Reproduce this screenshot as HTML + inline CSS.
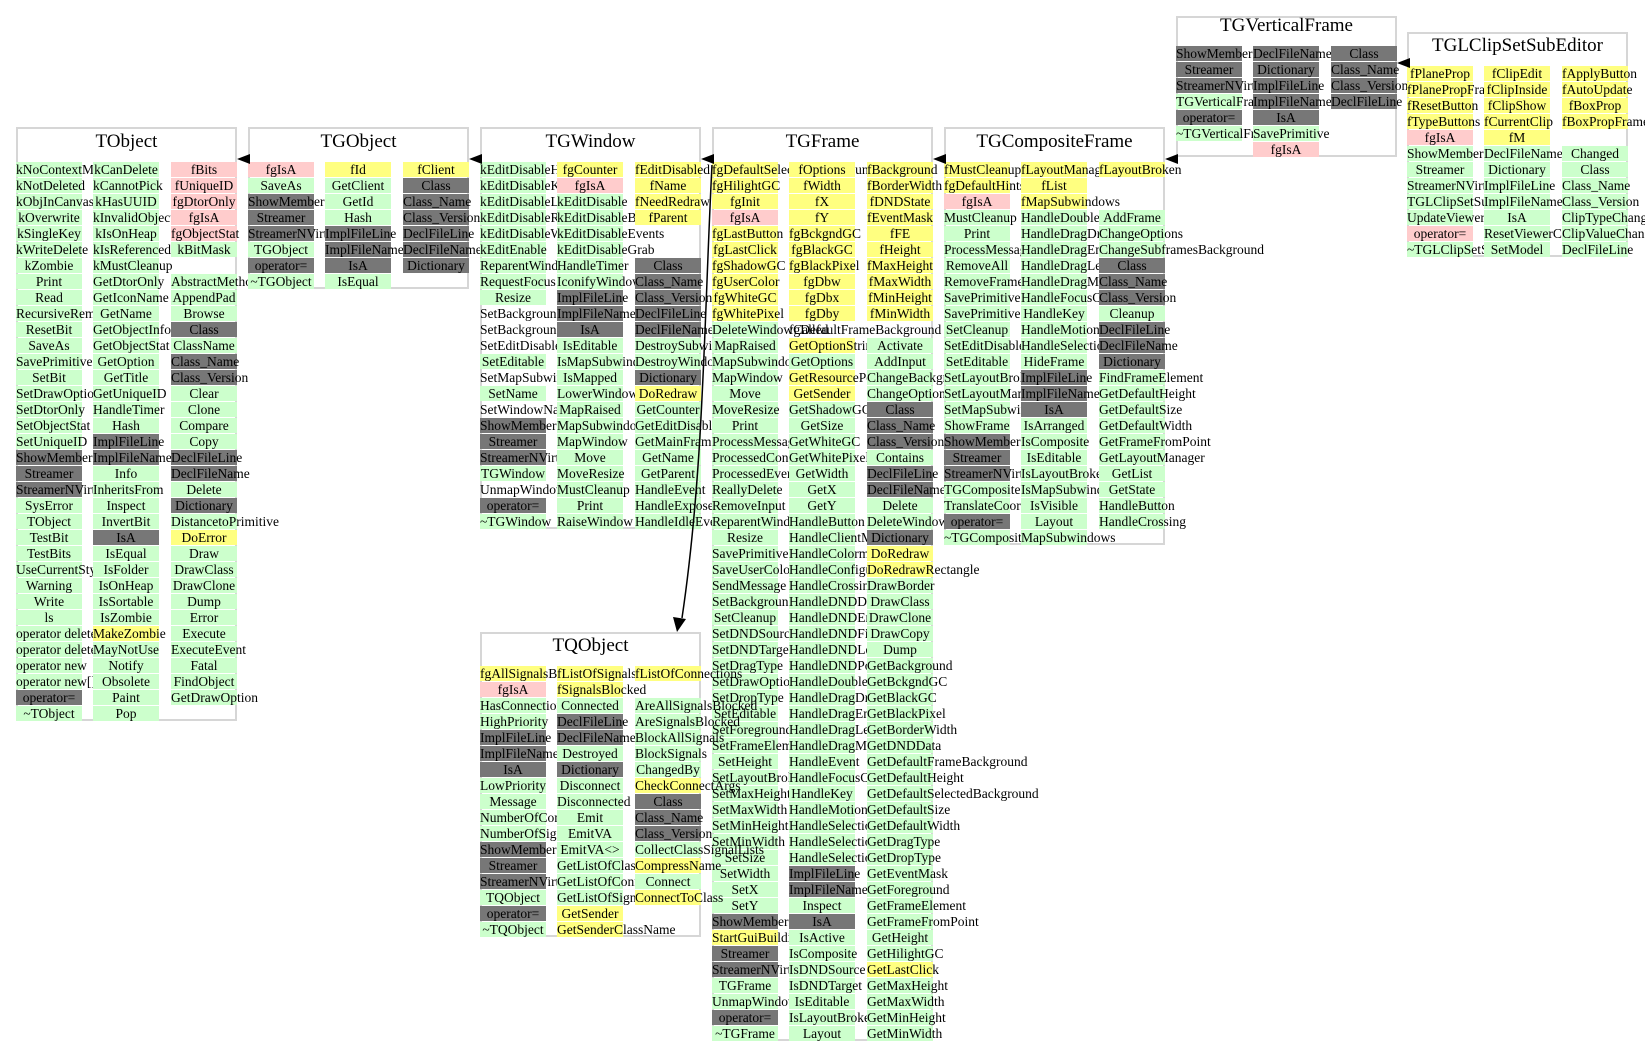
<!DOCTYPE html>
<html><head><meta charset="utf-8">
<style>
html,body{margin:0;padding:0;background:#fff;}
#root{position:relative;width:1645px;height:1056px;overflow:hidden;font-family:"Liberation Serif",serif;}
.box{position:absolute;border:2px solid #d6d6d6;box-sizing:border-box;background:transparent;}
.title{position:absolute;font-size:19px;text-align:center;color:#000;white-space:nowrap;}
.cell{position:absolute;height:15px;width:66px;font-size:13.5px;line-height:15px;text-align:center;white-space:nowrap;color:#000;}
.cell span{position:relative;display:inline-block;width:66px;text-align:center;}
.g{background:#ccffcc}.y{background:#ffff80}.p{background:#ffcccc}.d{background:#777777}.w{background:transparent}
svg{position:absolute;left:0;top:0;}
</style></head>
<body>
<div id="root">
<svg width="1645" height="1056">
  <path d="M712,165 C704,320 704,470 682,618" fill="none" stroke="#000" stroke-width="1.5"/>
  <polygon points="677,632 673,617 686,619" fill="#000"/>
</svg>
</div>
<script>
// class names
const classNames = ["TObject","TGObject","TGWindow","TGFrame","TGCompositeFrame","TQObject","TGVerticalFrame","TGLClipSetSubEditor"];
// members per column (prefix: g=green, y=yellow field, p=pink static, d=gray generated, w=plain, empty=blank)
const colsTObject = [
"g:kNoContextMenu|g:kNotDeleted|g:kObjInCanvas|g:kOverwrite|g:kSingleKey|g:kWriteDelete|g:kZombie|g:Print|g:Read|g:RecursiveRemove|g:ResetBit|g:SaveAs|g:SavePrimitive|g:SetBit|g:SetDrawOption|g:SetDtorOnly|g:SetObjectStat|g:SetUniqueID|d:ShowMembers|d:Streamer|d:StreamerNVirtual|g:SysError|g:TObject|g:TestBit|g:TestBits|g:UseCurrentStyle|g:Warning|g:Write|g:ls|g:operator delete|g:operator delete[]|g:operator new|g:operator new[]|d:operator=|g:~TObject",
"g:kCanDelete|g:kCannotPick|g:kHasUUID|g:kInvalidObject|g:kIsOnHeap|g:kIsReferenced|g:kMustCleanup|g:GetDtorOnly|g:GetIconName|g:GetName|g:GetObjectInfo|g:GetObjectStat|g:GetOption|g:GetTitle|g:GetUniqueID|g:HandleTimer|g:Hash|d:ImplFileLine|d:ImplFileName|g:Info|g:InheritsFrom|g:Inspect|g:InvertBit|d:IsA|g:IsEqual|g:IsFolder|g:IsOnHeap|g:IsSortable|g:IsZombie|y:MakeZombie|g:MayNotUse|g:Notify|g:Obsolete|g:Paint|g:Pop",
"p:fBits|p:fUniqueID|p:fgDtorOnly|p:fgIsA|p:fgObjectStat|g:kBitMask||g:AbstractMethod|g:AppendPad|g:Browse|d:Class|g:ClassName|d:Class_Name|d:Class_Version|g:Clear|g:Clone|g:Compare|g:Copy|d:DeclFileLine|d:DeclFileName|g:Delete|d:Dictionary|g:DistancetoPrimitive|y:DoError|g:Draw|g:DrawClass|g:DrawClone|g:Dump|g:Error|g:Execute|g:ExecuteEvent|g:Fatal|g:FindObject|g:GetDrawOption"];
const colsTGObject = [
"p:fgIsA|g:SaveAs|d:ShowMembers|d:Streamer|d:StreamerNVirtual|g:TGObject|d:operator=|g:~TGObject",
"y:fId|g:GetClient|g:GetId|g:Hash|d:ImplFileLine|d:ImplFileName|d:IsA|g:IsEqual",
"y:fClient|d:Class|d:Class_Name|d:Class_Version|d:DeclFileLine|d:DeclFileName|d:Dictionary"];
const colsTGWindow = [
"g:kEditDisableHeight|g:kEditDisableKeyEnable|g:kEditDisableLayout|g:kEditDisableResize|g:kEditDisableWidth|g:kEditEnable|g:ReparentWindow|g:RequestFocus|g:Resize|w:SetBackgroundColor|w:SetBackgroundPixmap|w:SetEditDisabled|g:SetEditable|w:SetMapSubwindows|g:SetName|w:SetWindowName|d:ShowMembers|d:Streamer|d:StreamerNVirtual|g:TGWindow|w:UnmapWindow|d:operator=|g:~TGWindow",
"y:fgCounter|p:fgIsA|g:kEditDisable|g:kEditDisableBtnEnable|g:kEditDisableEvents|g:kEditDisableGrab|g:HandleTimer|g:IconifyWindow|d:ImplFileLine|d:ImplFileName|d:IsA|g:IsEditable|g:IsMapSubwindows|g:IsMapped|g:LowerWindow|g:MapRaised|g:MapSubwindows|g:MapWindow|g:Move|g:MoveResize|g:MustCleanup|g:Print|g:RaiseWindow",
"y:fEditDisabled|y:fName|y:fNeedRedraw|y:fParent|||d:Class|d:Class_Name|d:Class_Version|d:DeclFileLine|d:DeclFileName|g:DestroySubwindows|g:DestroyWindow|d:Dictionary|y:DoRedraw|g:GetCounter|g:GetEditDisabled|g:GetMainFrame|g:GetName|g:GetParent|g:HandleEvent|g:HandleExpose|g:HandleIdleEvent"];
const colsTGFrame = [
"y:fgDefaultSelectedBackground|y:fgHilightGC|y:fgInit|p:fgIsA|y:fgLastButton|y:fgLastClick|y:fgShadowGC|y:fgUserColor|y:fgWhiteGC|y:fgWhitePixel|g:DeleteWindowCalled|g:MapRaised|g:MapSubwindows|g:MapWindow|g:Move|g:MoveResize|g:Print|g:ProcessMessage|g:ProcessedConfigure|g:ProcessedEvent|g:ReallyDelete|g:RemoveInput|g:ReparentWindow|g:Resize|g:SavePrimitive|g:SaveUserColor|g:SendMessage|g:SetBackgroundColor|g:SetCleanup|g:SetDNDSource|g:SetDNDTarget|g:SetDragType|g:SetDrawOption|g:SetDropType|g:SetEditable|g:SetForegroundColor|g:SetFrameElement|g:SetHeight|g:SetLayoutBroken|g:SetMaxHeight|g:SetMaxWidth|g:SetMinHeight|g:SetMinWidth|g:SetSize|g:SetWidth|g:SetX|g:SetY|d:ShowMembers|y:StartGuiBuilding|d:Streamer|d:StreamerNVirtual|g:TGFrame|g:UnmapWindow|d:operator=|g:~TGFrame",
"y:fOptions|y:fWidth|y:fX|y:fY|y:fgBckgndGC|y:fgBlackGC|y:fgBlackPixel|y:fgDbw|y:fgDbx|y:fgDby|w:fgDefaultFrameBackground|y:GetOptionString|g:GetOptions|y:GetResourcePool|y:GetSender|g:GetShadowGC|g:GetSize|g:GetWhiteGC|g:GetWhitePixel|g:GetWidth|g:GetX|g:GetY|g:HandleButton|g:HandleClientMessage|g:HandleColormapChange|g:HandleConfigureNotify|g:HandleCrossing|g:HandleDNDDrop|g:HandleDNDEnter|g:HandleDNDFinished|g:HandleDNDLeave|g:HandleDNDPosition|g:HandleDoubleClick|g:HandleDragDrop|g:HandleDragEnter|g:HandleDragLeave|g:HandleDragMotion|g:HandleEvent|g:HandleFocusChange|g:HandleKey|g:HandleMotion|g:HandleSelection|g:HandleSelectionClear|g:HandleSelectionRequest|d:ImplFileLine|d:ImplFileName|g:Inspect|d:IsA|g:IsActive|g:IsComposite|g:IsDNDSource|g:IsDNDTarget|g:IsEditable|g:IsLayoutBroken|g:Layout",
"y:fBackground|y:fBorderWidth|y:fDNDState|y:fEventMask|y:fFE|y:fHeight|y:fMaxHeight|y:fMaxWidth|y:fMinHeight|y:fMinWidth||g:Activate|g:AddInput|g:ChangeBackground|g:ChangeOptions|d:Class|d:Class_Name|d:Class_Version|g:Contains|d:DeclFileLine|d:DeclFileName|g:Delete|g:DeleteWindow|d:Dictionary|y:DoRedraw|y:DoRedrawRectangle|g:DrawBorder|g:DrawClass|g:DrawClone|g:DrawCopy|g:Dump|g:GetBackground|g:GetBckgndGC|g:GetBlackGC|g:GetBlackPixel|g:GetBorderWidth|g:GetDNDData|g:GetDefaultFrameBackground|g:GetDefaultHeight|g:GetDefaultSelectedBackground|g:GetDefaultSize|g:GetDefaultWidth|g:GetDragType|g:GetDropType|g:GetEventMask|g:GetForeground|g:GetFrameElement|g:GetFrameFromPoint|g:GetHeight|g:GetHilightGC|y:GetLastClick|g:GetMaxHeight|g:GetMaxWidth|g:GetMinHeight|g:GetMinWidth"];
const colsTGCompositeFrame = [
"y:fMustCleanup|y:fgDefaultHints|p:fgIsA|g:MustCleanup|g:Print|g:ProcessMessage|g:RemoveAll|g:RemoveFrame|g:SavePrimitive|g:SavePrimitiveSubframes|g:SetCleanup|g:SetEditDisabled|g:SetEditable|g:SetLayoutBroken|g:SetLayoutManager|g:SetMapSubwindows|g:ShowFrame|d:ShowMembers|d:Streamer|d:StreamerNVirtual|g:TGCompositeFrame|g:TranslateCoordinates|d:operator=|g:~TGCompositeFrame",
"y:fLayoutManager|y:fList|y:fMapSubwindows|g:HandleDoubleClick|g:HandleDragDrop|g:HandleDragEnter|g:HandleDragLeave|g:HandleDragMotion|g:HandleFocusChange|g:HandleKey|g:HandleMotion|g:HandleSelection|g:HideFrame|d:ImplFileLine|d:ImplFileName|d:IsA|g:IsArranged|g:IsComposite|g:IsEditable|g:IsLayoutBroken|g:IsMapSubwindows|g:IsVisible|g:Layout|g:MapSubwindows",
"y:fLayoutBroken|||g:AddFrame|g:ChangeOptions|g:ChangeSubframesBackground|d:Class|d:Class_Name|d:Class_Version|g:Cleanup|d:DeclFileLine|d:DeclFileName|d:Dictionary|g:FindFrameElement|g:GetDefaultHeight|g:GetDefaultSize|g:GetDefaultWidth|g:GetFrameFromPoint|g:GetLayoutManager|g:GetList|g:GetState|g:HandleButton|g:HandleCrossing"];
const colsTQObject = [
"y:fgAllSignalsBlocked|p:fgIsA|g:HasConnection|g:HighPriority|d:ImplFileLine|d:ImplFileName|d:IsA|g:LowPriority|g:Message|g:NumberOfConnections|g:NumberOfSignals|d:ShowMembers|d:Streamer|d:StreamerNVirtual|g:TQObject|d:operator=|g:~TQObject",
"y:fListOfSignals|y:fSignalsBlocked|g:Connected|d:DeclFileLine|d:DeclFileName|g:Destroyed|d:Dictionary|g:Disconnect|g:Disconnected|g:Emit|g:EmitVA|g:EmitVA<>|g:GetListOfClassSignals|g:GetListOfConnections|g:GetListOfSignals|y:GetSender|y:GetSenderClassName",
"y:fListOfConnections||g:AreAllSignalsBlocked|g:AreSignalsBlocked|g:BlockAllSignals|g:BlockSignals|g:ChangedBy|y:CheckConnectArgs|d:Class|d:Class_Name|d:Class_Version|g:CollectClassSignalLists|y:CompressName|g:Connect|y:ConnectToClass"];
const colsTGVerticalFrame = [
"d:ShowMembers|d:Streamer|d:StreamerNVirtual|g:TGVerticalFrame|d:operator=|g:~TGVerticalFrame",
"d:DeclFileName|d:Dictionary|d:ImplFileLine|d:ImplFileName|d:IsA|g:SavePrimitive|p:fgIsA",
"d:Class|d:Class_Name|d:Class_Version|d:DeclFileLine"];
const colsTGLClipSetSubEditor = [
"y:fPlaneProp|y:fPlanePropFrame|y:fResetButton|y:fTypeButtons|p:fgIsA|g:ShowMembers|g:Streamer|g:StreamerNVirtual|g:TGLClipSetSubEditor|g:UpdateViewerClip|p:operator=|g:~TGLClipSetSubEditor",
"y:fClipEdit|y:fClipInside|y:fClipShow|y:fCurrentClip|y:fM|g:DeclFileName|g:Dictionary|g:ImplFileLine|g:ImplFileName|g:IsA|g:ResetViewerClip|g:SetModel",
"y:fApplyButton|y:fAutoUpdate|y:fBoxProp|y:fBoxPropFrame||g:Changed|g:Class|g:Class_Name|g:Class_Version|g:ClipTypeChanged|g:ClipValueChanged|g:DeclFileLine"];

const allCols = [colsTObject,colsTGObject,colsTGWindow,colsTGFrame,colsTGCompositeFrame,colsTQObject,colsTGVerticalFrame,colsTGLClipSetSubEditor];
// layout
const boxX = [16,248,480,712,944,480,1176,1407];
const boxY = [127,127,127,127,127,632,16,32];
const firstRow = [42,42,42,42,42,41,37,41];
const parentTip = [null,[237,159],[469,159],[701,159],[933,159],null,[1165,159],[1397,63]];
const BW=221, PITCH=16, CH=15, CW=66, COLX=[0,77,155];

const root=document.getElementById('root');
const svg=document.querySelector('svg');
function slug(s){return s.toLowerCase().replace(/[^a-z0-9]+/g,'-').replace(/^-|-$/g,'');}
classNames.forEach((name,i)=>{
  const cols=allCols[i].map(c=>c.split('|'));
  const nrows=Math.max(...cols.map(c=>c.length));
  const bx=boxX[i], by=boxY[i];
  const h=firstRow[i]+(nrows-1)*PITCH+8;
  const box=document.createElement('div');
  box.className='box';
  
  
  box.style.left=bx+'px';box.style.top=by+'px';box.style.width=BW+'px';box.style.height=h+'px';
  root.appendChild(box);
  const t=document.createElement('div');
  t.className='title';
  
  
  t.textContent=name;
  t.style.left=bx+'px';t.style.width=BW+'px';t.style.top=(by+firstRow[i]-38)+'px';
  root.appendChild(t);
  cols.forEach((col,ci)=>{
    col.forEach((item,ri)=>{
      if(!item) return;
      const k=item.slice(0,1), txt=item.slice(2);
      const c=document.createElement('div');
      c.className='cell '+k;
      
      
      c.style.left=(bx+COLX[ci])+'px';
      c.style.top=(by+firstRow[i]+ri*PITCH-7.5)+'px';
      const s=document.createElement('span');
      s.textContent=txt;
      c.appendChild(s);
      root.appendChild(c);
    });
  });
  const tip=parentTip[i];
  if(tip){
    const p=document.createElementNS('http://www.w3.org/2000/svg','polygon');
    p.setAttribute('points', tip[0]+','+tip[1]+' '+(tip[0]+13)+','+(tip[1]-5)+' '+(tip[0]+13)+','+(tip[1]+5));
    p.setAttribute('fill','#000');
    
    
    svg.appendChild(p);
  }
});
root.appendChild(svg);
</script>
</body></html>
